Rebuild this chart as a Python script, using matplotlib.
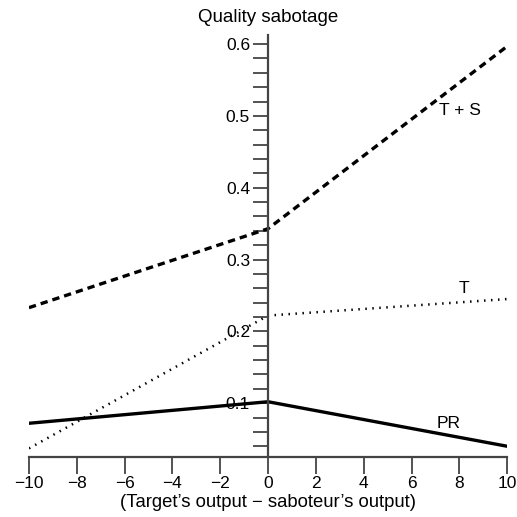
import matplotlib.pyplot as plt
import numpy as np

plt.rcParams['font.family'] = ['Liberation Sans', 'DejaVu Sans']

# valores
x_pts = np.array([-10, 0, 10])
t_plus_s = np.array([0.233, 0.343, 0.597])
t_only = np.array([0.037, 0.222, 0.245])
pr = np.array([0.072, 0.102, 0.040])

x_ticks = np.arange(-10, 11, 2)
y_ticks = [0.1, 0.2, 0.3, 0.4, 0.5, 0.6]

fig = plt.figure(figsize=(5.17, 5.17), dpi=100)
ax = fig.add_axes([0.056, 0.116, 0.925, 0.816])

ax.plot(x_pts, t_plus_s, color='black', lw=2.4, linestyle=(0, (2.2, 1.5)))
ax.plot(x_pts, t_only, color='black', lw=1.8, linestyle=(0, (0.6, 2.2)))
ax.plot(x_pts, pr, color='black', lw=2.4)

ax.text(8.03, 0.507, 'T + S', fontsize=12.5, ha='center', va='center')
ax.text(8.2, 0.26, 'T', fontsize=12.5, ha='center', va='center')
ax.text(7.57, 0.072, 'PR', fontsize=12.5, ha='center', va='center')

ax.set_xlim(-10, 10)
ax.set_ylim(0.025, 0.6125)

# eixo y no centro
ax.spines['left'].set_position(('data', 0))
ax.spines['right'].set_visible(False)
ax.spines['top'].set_visible(False)
for s in ['left', 'bottom']:
    ax.spines[s].set_color('#444444')
    ax.spines[s].set_linewidth(1.6)

ax.set_xticks(x_ticks)
ax.set_xticklabels([str(v).replace('-', '\u2212') for v in x_ticks])
ax.set_yticks(y_ticks)
ax.set_yticks(np.arange(0.04, 0.61, 0.02), minor=True)
ax.set_yticklabels([f'{v:.1f}' for v in y_ticks])
ax.tick_params(axis='x', direction='out', length=12, width=1.3, color='#444444', labelsize=12.5, pad=2)
ax.tick_params(axis='y', which='both', direction='out', length=11, width=1.3, color='#444444', labelsize=12.5, pad=2)

ax.set_xlabel('(Target\u2019s output \u2212 saboteur\u2019s output)', fontsize=13.3, labelpad=2)
fig.text(0.518, 0.966, 'Quality sabotage', fontsize=13.5, ha='center', va='center')

fig.savefig('out.png', dpi=100)
